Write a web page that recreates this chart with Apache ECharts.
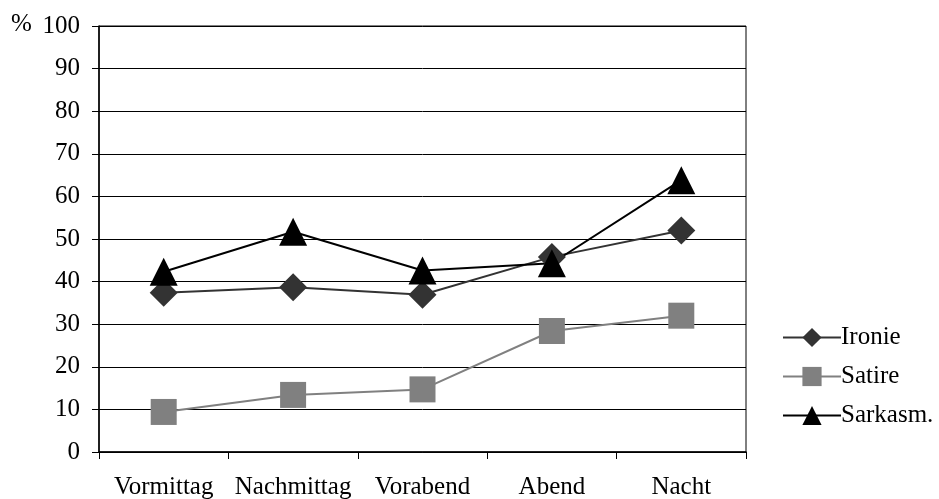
<!DOCTYPE html>
<html>
<head>
<meta charset="utf-8">
<script src="https://cdn.jsdelivr.net/npm/echarts@6/dist/echarts.min.js"></script>
<style>
  html, body { margin: 0; padding: 0; background: #fff; }
  #chart { width: 939px; height: 499px; }
</style>
</head>
<body>
<div id="chart"></div>
<script>
// ── 資料 ─────────────────────────────────────
const categories = ['Vormittag', 'Nachmittag', 'Vorabend', 'Abend', 'Nacht'];
const ironie   = [37.4, 38.7, 36.9, 45.8, 52.0];
const satire   = [9.4, 13.4, 14.7, 28.4, 32.0];
const sarkasm  = [42.3, 51.7, 42.6, 44.3, 63.8];

const FONT = 'Liberation Serif';
const FS = 25;

const chart = echarts.init(document.getElementById('chart'));

function lineSeries(name, data, color, symbol, size) {
  return {
    name, type: 'line', data,
    symbol, symbolSize: size,
    lineStyle: { color, width: 2 },
    itemStyle: { color },
    z: 3,
  };
}

chart.setOption({
  animation: false,
  backgroundColor: '#fff',
  textStyle: { fontFamily: FONT, color: '#000' },
  grid: {
    left: 99, right: 193, top: 26, bottom: 47,
    outerBoundsMode: 'none',
    show: true, borderColor: '#000', borderWidth: 1,
  },
  graphic: [{
    type: 'text', left: 11, top: 12,
    style: { text: '%', fontFamily: FONT, fontSize: FS, fill: '#000' },
  }],
  legend: {
    orient: 'vertical',
    left: 777, top: 320,
    itemWidth: 58, itemHeight: 24, itemGap: 14,
    textStyle: { fontFamily: FONT, fontSize: FS, color: '#000', padding: [0, 0, 0, -5] },
    data: ['Ironie', 'Satire', 'Sarkasm.'],
  },
  xAxis: {
    type: 'category',
    data: categories,
    boundaryGap: true,
    axisLine: { lineStyle: { color: '#000', width: 1.5 } },
    axisTick: { show: true, interval: 0, length: 7, lineStyle: { color: '#000' } },
    axisLabel: { interval: 0, color: '#000', fontFamily: FONT, fontSize: FS, margin: 23 },
  },
  yAxis: {
    type: 'value',
    min: 0, max: 100, interval: 10,
    axisLine: { show: true, lineStyle: { color: '#000', width: 1.5 } },
    axisTick: { show: true, length: 7, lineStyle: { color: '#000' } },
    axisLabel: { color: '#000', fontFamily: FONT, fontSize: FS, margin: 19 },
    splitLine: { lineStyle: { color: '#000', width: 1 } },
  },
  series: [
    lineSeries('Ironie', ironie, '#333333', 'diamond', 28),
    lineSeries('Satire', satire, '#808080', 'rect', 26),
    lineSeries('Sarkasm.', sarkasm, '#000000', 'triangle', 28),
  ],
});
</script>
</body>
</html>
